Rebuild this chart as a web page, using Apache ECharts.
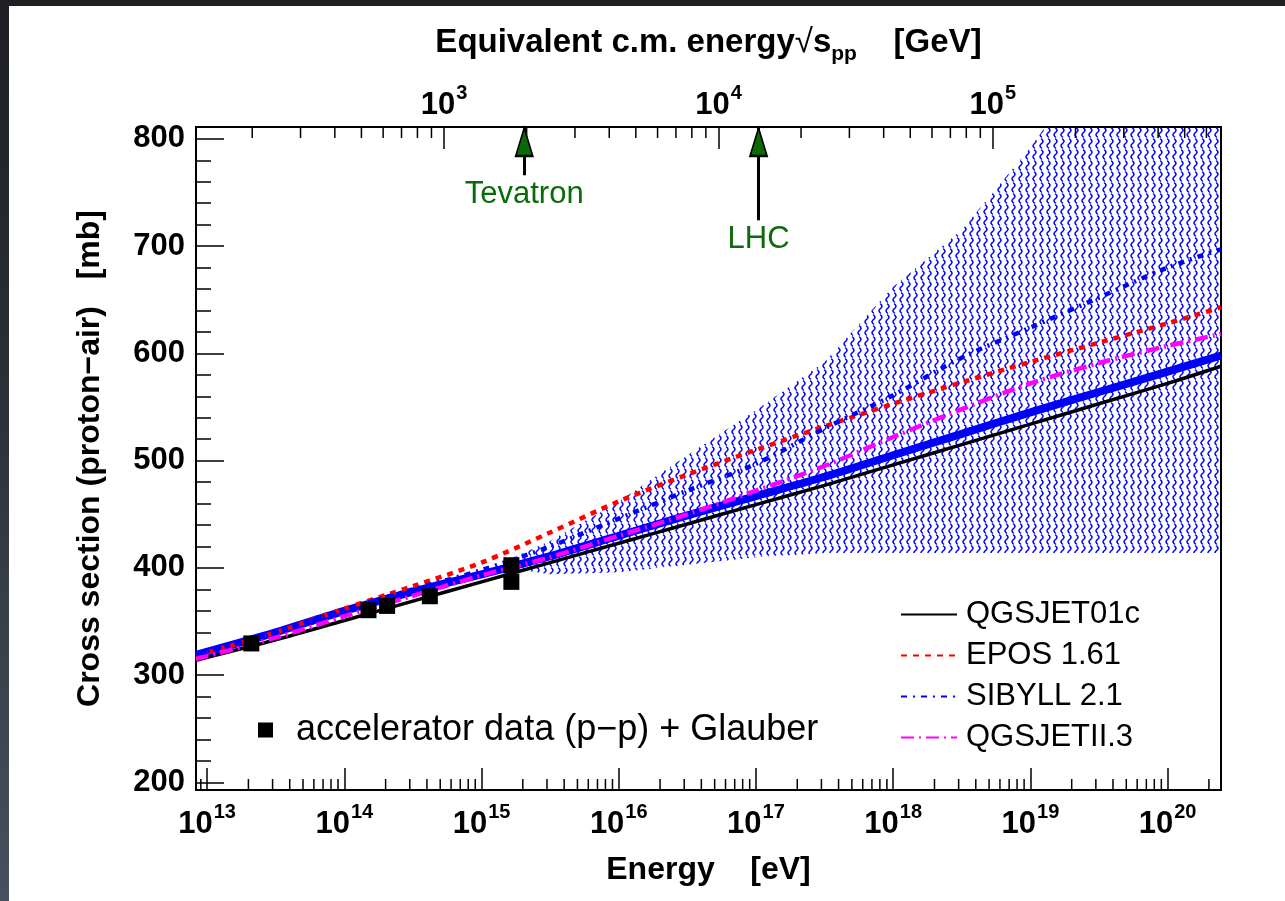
<!DOCTYPE html>
<html>
<head>
<meta charset="utf-8">
<script src="https://cdn.jsdelivr.net/npm/echarts@6/dist/echarts.min.js"></script>
<style>
html,body{margin:0;padding:0;width:1285px;height:901px;overflow:hidden;
background:linear-gradient(to bottom,#1d1f23 0%,#2a2f36 40%,#46515d 100%);}
#c{position:absolute;left:9px;top:6px;width:1276px;height:895px;background:#fff;}
</style>
</head>
<body>
<div id="c"></div>
<script>
// ---------------- data ----------------
const ENERGY = [8.3e12, 3.16e13, 1e14, 3.16e14, 1e15, 3.16e15, 1e16, 3.16e16, 1e17, 3.16e17, 1e18, 3.16e18, 1e19, 3.16e19, 1e20, 2.45e20];
const QGSJET01C = [314, 333, 351, 369, 387, 405, 423, 441, 459, 477, 496, 515, 534, 553, 572, 588];
const EPOS161   = [318, 340, 362, 383, 405, 433, 462, 487, 510, 532, 553, 573, 592, 610, 628, 643];
const SIBYLL21  = [320, 340, 361, 380, 398, 420, 446, 472, 497, 530, 561, 596, 624, 652, 680, 697];
const QGSJETII3 = [315, 335, 355, 374, 393, 410, 430, 450, 472, 495, 522, 548, 572, 591, 607, 618];
const FIT_LINE  = [319, 340, 360, 378, 394, 411, 430, 449, 467, 485, 505, 525, 545, 564, 583, 598];

const BAND_E    = [1.6e15, 3.16e15, 1e16, 3.16e16, 1e17, 3.16e17, 1e18, 3.16e18, 1e19, 3.16e19, 1e20, 2.45e20];
const BAND_LOW  = [400, 394, 396, 403, 410, 414, 414, 414, 414, 414, 414, 414];
const BAND_HIGH = [408, 425, 462, 505, 547, 592, 662, 715, 792, 880, 970, 1040];

const DATA_E    = [2.1e13, 1.5e14, 2.05e14, 4.2e14, 1.65e15, 1.65e15];
const DATA_XS   = [329.6, 360.6, 364.6, 373.6, 387, 402.5];

const MARKERS = [{name: 'Tevatron', sqs: 1960, low: 766}, {name: 'LHC', sqs: 14000, low: 724}];

const E_MIN = 8.3e12, E_MAX = 2.45e20;
const Y_MIN = 193, Y_MAX = 811;
const MP = 0.938272; // GeV
const sqs = e => Math.sqrt(2 * MP * e / 1e9);
const S_MIN = sqs(E_MIN), S_MAX = sqs(E_MAX);
const MINOR_MULT = [2, 3, 4, 5, 6, 7, 8, 9];
const E_DECADES = [12, 13, 14, 15, 16, 17, 18, 19, 20];
const S_DECADES = [2, 3, 4, 5];

// ---------------- helpers ----------------
const FONT = '"Liberation Sans", Arial, Helvetica, sans-serif';
const GREEN = '#0b6b0b';
const zip = (xs, ys) => xs.map((x, i) => [x, ys[i]]);
function minorTicks(decades, lo, hi) {
  const out = [];
  decades.forEach(d => MINOR_MULT.forEach(m => { const v = m * Math.pow(10, d); if (v > lo && v < hi) out.push([v, Y_MIN]); }));
  return out;
}
function makePattern() {
  const c = document.createElement('canvas');
  c.width = 7; c.height = 11;
  const g = c.getContext('2d');
  g.strokeStyle = '#0000ff'; g.lineWidth = 1.45; g.lineCap = 'round';
  g.beginPath();
  for (let y = 1; y <= 10.01; y += 0.5) {
    const x = 3.5 + 1.5 * Math.sin(2 * Math.PI * (y - 1) / 9);
    if (y === 1) g.moveTo(x, y); else g.lineTo(x, y);
  }
  g.stroke();
  return c;
}
const PATTERN = makePattern();
const pow10Label = v => '{b|10}{s|' + Math.round(Math.log10(v)) + '}';
const richLbl = {
  b: {fontSize: 31, fontWeight: 'bold', fontFamily: FONT, color: '#000', lineHeight: 40, verticalAlign: 'bottom'},
  s: {fontSize: 20, fontWeight: 'bold', fontFamily: FONT, color: '#000', lineHeight: 40, verticalAlign: 'top', padding: [2, 0, 0, 1]}
};

const chart = echarts.init(document.getElementById('c'));
const option = {
  animation: false,
  backgroundColor: '#fff',
  grid: {left: 187, right: 64, top: 121, bottom: 111, show: true, borderColor: '#000', borderWidth: 2, backgroundColor: 'transparent'},
  xAxis: [
    {
      type: 'log', logBase: 10, min: E_MIN, max: E_MAX, position: 'bottom',
      name: 'Energy    [eV]', nameLocation: 'middle', nameGap: 64,
      nameTextStyle: {fontSize: 32, fontWeight: 'bold', fontFamily: FONT, color: '#000'},
      axisLine: {show: true, lineStyle: {color: '#000', width: 2}},
      axisTick: {show: true, inside: true, length: 22, lineStyle: {color: '#000', width: 1.5}},
      axisLabel: {show: true, margin: 10, formatter: pow10Label, rich: richLbl, showMinLabel: false, showMaxLabel: false},
      splitLine: {show: false}
    },
    {
      type: 'log', logBase: 10, min: S_MIN, max: S_MAX, position: 'top',
      name: '{t|Equivalent c.m. energy}{r|√}{v|s}{p|pp}{t|    [GeV]}', nameLocation: 'middle', nameGap: 62,
      nameTextStyle: {rich: {
        t: {fontSize: 33, fontWeight: 'bold', fontFamily: FONT, color: '#000', lineHeight: 44},
        r: {fontSize: 33, fontFamily: FONT, color: '#000', lineHeight: 44},
        v: {fontSize: 33, fontWeight: 'bold', fontFamily: FONT, color: '#000', lineHeight: 44},
        p: {fontSize: 21, fontWeight: 'bold', fontFamily: FONT, color: '#000', lineHeight: 44, verticalAlign: 'bottom'}
      }},
      axisLine: {show: true, lineStyle: {color: '#000', width: 2}},
      axisTick: {show: true, inside: true, length: 22, lineStyle: {color: '#000', width: 1.5}},
      axisLabel: {show: true, margin: 6, formatter: pow10Label, rich: richLbl, showMinLabel: false, showMaxLabel: false},
      splitLine: {show: false}
    }
  ],
  yAxis: [{
    type: 'value', min: Y_MIN, max: Y_MAX, splitNumber: 6,
    name: 'Cross section (proton−air)   [mb]', nameLocation: 'middle', nameGap: 90,
    nameTextStyle: {fontSize: 32, fontWeight: 'bold', fontFamily: FONT, color: '#000'},
    axisLine: {show: true, lineStyle: {color: '#000', width: 2}},
    axisTick: {show: true, inside: true, length: 28, lineStyle: {color: '#000', width: 1.5}},
    minorTick: {show: true, splitNumber: 5, length: 15, lineStyle: {color: '#000', width: 1.5}},
    axisLabel: {show: true, margin: 11, fontSize: 31, fontWeight: 'bold', fontFamily: FONT, color: '#000', showMinLabel: false, showMaxLabel: false},
    splitLine: {show: false}
  }],
  legend: [
    {
      data: ['QGSJET01c', 'EPOS 1.61', 'SIBYLL 2.1', 'QGSJETII.3'],
      orient: 'vertical', left: 886, top: 588, itemWidth: 56, itemHeight: 14, itemGap: 10,
      itemStyle: {opacity: 0},
      textStyle: {fontSize: 31, fontFamily: FONT, color: '#000', padding: [0, 0, 0, 4]},
      selectedMode: false
    },
    {
      data: [{name: 'accelerator data (p−p) + Glauber', icon: 'rect'}],
      left: 244, top: 701, itemWidth: 15, itemHeight: 15,
      textStyle: {fontSize: 36, fontFamily: FONT, color: '#000', padding: [0, 0, 0, 18]},
      selectedMode: false
    }
  ],
  series: [
    {
      name: 'band', type: 'custom', data: [[BAND_E[0], BAND_LOW[0]]], silent: true, z: 1,
      renderItem: (params, api) => {
        const cs = params.coordSys;
        const pts = [];
        BAND_E.forEach((e, i) => pts.push(api.coord([e, BAND_HIGH[i]])));
        for (let i = BAND_E.length - 1; i >= 0; i--) pts.push(api.coord([BAND_E[i], BAND_LOW[i]]));
        return {
          type: 'polygon', shape: {points: pts},
          style: {fill: {image: PATTERN, repeat: 'repeat'}, stroke: null},
          clipPath: {type: 'rect', shape: {x: cs.x, y: cs.y, width: cs.width, height: cs.height}}
        };
      }
    },
    {
      name: 'QGSJET01c', type: 'line', data: zip(ENERGY, QGSJET01C), symbol: 'none', smooth: 0.3,
      lineStyle: {color: '#000', width: 3.5}, itemStyle: {color: '#000'}, z: 3
    },
    {
      name: 'fit', type: 'line', data: zip(ENERGY, FIT_LINE), symbol: 'none', smooth: 0.3,
      lineStyle: {color: '#0000ff', width: 8}, itemStyle: {color: '#0000ff'}, z: 4
    },
    {
      name: 'EPOS 1.61', type: 'line', data: zip(ENERGY, EPOS161), symbol: 'none', smooth: 0.3,
      lineStyle: {color: '#ff0000', width: 4.5, type: [6, 6]}, itemStyle: {color: '#ff0000'}, z: 5
    },
    {
      name: 'SIBYLL 2.1', type: 'line', data: zip(ENERGY, SIBYLL21), symbol: 'none', smooth: 0.3,
      lineStyle: {color: '#0000ff', width: 4.5, type: [6, 6, 2, 6]}, itemStyle: {color: '#0000ff'}, z: 5
    },
    {
      name: 'QGSJETII.3', type: 'line', data: zip(ENERGY, QGSJETII3), symbol: 'none', smooth: 0.3,
      lineStyle: {color: '#ff00ff', width: 4.5, type: [13, 5, 2, 5]}, itemStyle: {color: '#ff00ff'}, z: 5
    },
    {
      name: 'accelerator data (p−p) + Glauber', type: 'scatter', data: zip(DATA_E, DATA_XS),
      symbol: 'rect', symbolSize: 16, itemStyle: {color: '#000', opacity: 1}, z: 8
    },
    {
      name: 'minor-bottom', type: 'custom', xAxisIndex: 0, data: minorTicks(E_DECADES, E_MIN, E_MAX), silent: true, z: 9,
      renderItem: (params, api) => {
        const x = api.coord([api.value(0), Y_MIN])[0];
        const cs = params.coordSys; const yb = cs.y + cs.height;
        return {type: 'line', shape: {x1: x, y1: yb, x2: x, y2: yb - 11}, style: {stroke: '#000', lineWidth: 1.5}};
      }
    },
    {
      name: 'minor-top', type: 'custom', xAxisIndex: 1, data: minorTicks(S_DECADES, S_MIN, S_MAX), silent: true, z: 9,
      renderItem: (params, api) => {
        const x = api.coord([api.value(0), Y_MIN])[0];
        const cs = params.coordSys; const yt = cs.y;
        return {type: 'line', shape: {x1: x, y1: yt, x2: x, y2: yt + 11}, style: {stroke: '#000', lineWidth: 1.5}};
      }
    },
    {
      name: 'markers', type: 'line', xAxisIndex: 1, data: [], symbol: 'none', silent: true, z: 10,
      markLine: {
        silent: true, symbol: ['none', 'none'], animation: false,
        lineStyle: {color: '#000', width: 3, type: 'solid'},
        label: {show: true, position: 'start', distance: 4, formatter: p => p.name, color: GREEN, fontSize: 31, fontFamily: FONT},
        data: MARKERS.map(m => [{name: m.name, coord: [m.sqs, m.low]}, {coord: [m.sqs, Y_MAX]}])
      },
      markPoint: {
        silent: true, animation: false, symbol: 'triangle', symbolSize: [17, 28], symbolOffset: [0, 15],
        itemStyle: {color: '#0a6a0a', borderColor: '#000', borderWidth: 2},
        label: {show: false},
        data: MARKERS.map(m => ({name: m.name, coord: [m.sqs, Y_MAX]}))
      }
    }
  ]
};
chart.setOption(option);
</script>
</body>
</html>
